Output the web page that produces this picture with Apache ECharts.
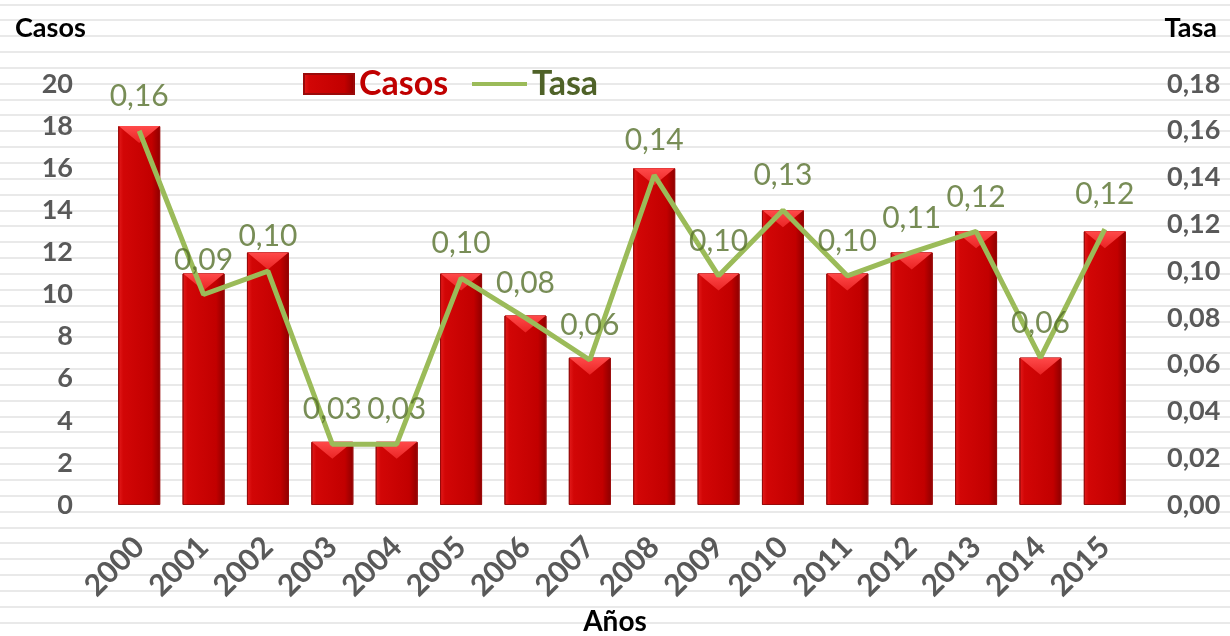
<!DOCTYPE html>
<html>
<head>
<meta charset="utf-8">
<script src="https://cdn.jsdelivr.net/npm/echarts@6/dist/echarts.min.js"></script>
<style>
  html, body {
    margin: 0;
    padding: 0;
    width: 1230px;
    height: 636px;
    background: repeating-linear-gradient(to bottom,
      #ffffff 0px, #ffffff 3.5px,
      #e9e9e9 3.5px, #e9e9e9 5.5px,
      #ffffff 5.5px, #ffffff 15.85px);
  }
  #chart { width: 1230px; height: 636px; }
</style>
</head>
<body>
<div id="chart"></div>
<script>
// datos
const years = ['2000', '2001', '2002', '2003', '2004', '2005', '2006', '2007',
  '2008', '2009', '2010', '2011', '2012', '2013', '2014', '2015'];
const casos = [18, 11, 12, 3, 3, 11, 9, 7, 16, 11, 14, 11, 12, 13, 7, 13];
const tasa = [0.160, 0.090, 0.100, 0.026, 0.026, 0.097, 0.080, 0.062,
  0.141, 0.098, 0.126, 0.098, 0.108, 0.117, 0.063, 0.118];

const FONT = 'Lato, "Open Sans", sans-serif';
const axisGray = '#595959';
const green = '#9bbb59';
const fmt = v => v.toFixed(2).replace('.', ',');

const chart = echarts.init(document.getElementById('chart'));

const option = {
  backgroundColor: 'transparent',
  textStyle: { fontFamily: FONT },
  title: [
    { text: 'Casos', left: 10, top: 10, textStyle: { fontFamily: FONT, fontSize: 27, fontWeight: 'bold', color: '#000' } },
    { text: 'Tasa', right: 8, top: 10, textStyle: { fontFamily: FONT, fontSize: 27, fontWeight: 'bold', color: '#000' } },
    { text: 'Años', left: 'center', top: 603, textStyle: { fontFamily: FONT, fontSize: 28, fontWeight: 'bold', color: '#000' } }
  ],
  // dos leyendas para poder dar a cada icono su tamaño
  legend: [
    {
      left: 298,
      top: 62,
      itemWidth: 50,
      itemHeight: 20,
      data: [{ name: 'Casos', icon: 'rect' }],
      textStyle: { fontFamily: FONT, fontSize: 34, fontWeight: 'bold', color: '#c00000' }
    },
    {
      left: 467,
      top: 62,
      itemWidth: 55,
      itemHeight: 4,
      data: [{ name: 'Tasa', icon: 'rect' }],
      textStyle: { fontFamily: FONT, fontSize: 34, fontWeight: 'bold', color: '#4f6228' }
    }
  ],
  grid: {
    left: 107,
    right: 93,
    top: 84,
    bottom: 131
  },
  xAxis: {
    type: 'category',
    data: years,
    axisLine: { show: false },
    axisTick: { show: false },
    axisLabel: {
      rotate: 45,
      margin: 37,
      fontFamily: FONT,
      fontSize: 30,
      fontWeight: 'bold',
      color: axisGray
    }
  },
  yAxis: [
    {
      type: 'value',
      min: 0,
      max: 20,
      interval: 2,
      splitLine: { show: false },
      axisLine: { show: false },
      axisTick: { show: false },
      axisLabel: {
        margin: 34,
        fontFamily: FONT,
        fontSize: 27,
        fontWeight: 'bold',
        color: axisGray
      }
    },
    {
      type: 'value',
      min: 0,
      max: 0.18,
      interval: 0.02,
      splitLine: { show: false },
      axisLine: { show: false },
      axisTick: { show: false },
      axisLabel: {
        margin: 30,
        formatter: fmt,
        fontFamily: FONT,
        fontSize: 27,
        fontWeight: 'bold',
        color: axisGray
      }
    }
  ],
  series: [
    {
      name: 'Casos',
      type: 'bar',
      data: casos,
      barWidth: 42,
      barGap: '-100%',
      itemStyle: {
        color: new echarts.graphic.LinearGradient(0, 0, 1, 0, [
          { offset: 0, color: '#e41c1c' },
          { offset: 0.12, color: '#d20606' },
          { offset: 0.8, color: '#c20000' },
          { offset: 1, color: '#8e0000' }
        ]),
        borderColor: '#9a0a0a',
        borderWidth: 1
      },
      z: 2
    },
    {
      name: 'bisel',
      type: 'pictorialBar',
      data: casos,
      barWidth: 42,
      barGap: '-100%',
      symbol: 'path://M0,0 L20,0 L10,8 Z',
      symbolSize: [41, 17],
      symbolPosition: 'end',
      itemStyle: {
        color: new echarts.graphic.LinearGradient(0, 0, 0, 1, [
          { offset: 0, color: '#ff4a4a' },
          { offset: 1, color: '#ea2424' }
        ])
      },
      silent: true,
      z: 3
    },
    {
      name: 'Tasa',
      type: 'line',
      yAxisIndex: 1,
      data: tasa,
      symbol: 'none',
      color: green,
      itemStyle: { color: green },
      lineStyle: { color: green, width: 5 },
      z: 5
    },
    {
      // etiquetas de la tasa
      name: 'etiquetas',
      type: 'scatter',
      yAxisIndex: 1,
      data: tasa,
      symbolSize: 1,
      itemStyle: { color: 'rgba(0,0,0,0)' },
      label: {
        show: true,
        position: 'top',
        distance: 19,
        formatter: p => fmt(p.value),
        fontFamily: FONT,
        fontSize: 30,
        color: '#56702c'
      },
      silent: true,
      z: 6
    }
  ]
};

chart.setOption(option);
</script>
</body>
</html>
